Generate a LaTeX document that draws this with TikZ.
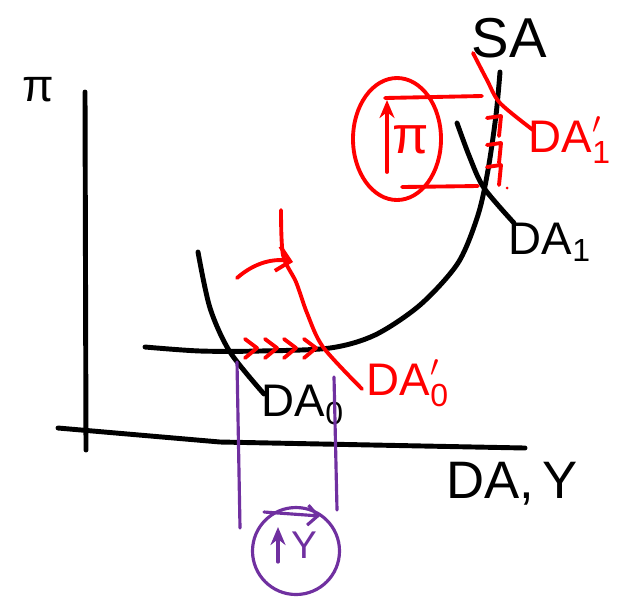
\documentclass[tikz,border=0pt]{standalone}
\usepackage{fontspec}
\setmainfont{Liberation Sans}
\usetikzlibrary{arrows.meta,shapes.geometric}
\definecolor{myViolet}{RGB}{112,48,160}
\tikzset{
myAxis/.style={black, line width=2.8pt, line cap=round, line join=round}
, myCurve/.style={black, line width=2.8pt, line cap=round}
, myShift/.style={red, line width=2.2pt, line cap=round, line join=round}
, myLink/.style={myViolet, line width=1.8pt, line cap=round}
, myLabel/.style={inner sep=0pt, font=\fontsize{26}{30}\selectfont}
, myBarb/.style={-{Straight Barb[length=2.6mm,width=5mm]}}
, myUp/.style={-{Stealth[length=3.6mm,width=3mm]}}
}

\begin{document}
\begin{tikzpicture}[x=0.2mm,y=-0.2mm]
	\useasboundingbox (0,0) rectangle (619,605);
	% axes
	\draw[myAxis] (85,92) -- (86,450);
	\draw[myAxis] (58,428) -- (220,442) -- (525,448);
	\node[myLabel] (PiAxis) at (38,90) {π};
	\node[myLabel, font=\fontsize{30}{34}\selectfont] (QAxis) at (512,484) {DA,\,Y};

	% supply
	\draw[myCurve] plot[smooth] coordinates {(145,347) (200,351) (260,351) (330,348) (375,335) (420,305) (458,263) (478,215) (488,170) (496,115) (500,72)};
	\node[myLabel, font=\fontsize{32}{36}\selectfont] (SA) at (509,38) {SA};

	% demand, low
	\draw[myCurve] plot[smooth] coordinates {(198,252) (210,308) (230,352) (264,394)};
	\node[myLabel] (DAzero) at (303,405) {DA\textsubscript{0}};
	\draw[myShift] plot[smooth] coordinates {(281,210) (283,255) (296,282) (307,313) (323,347) (362,389)};
	\node[myLabel, text=red] (DAzeroNew) at (408,383) {$\mathrm{DA}'_{\mathrm{0}}$};
	\draw[myShift, myBarb] (237,278) .. controls (255,262) and (275,258) .. (293,262);
	\foreach \x in {245,265,284,304}
		\draw[myShift] (\x,339) -- (\x+12,348) -- (\x,358);

	% demand, high
	\draw[myCurve] plot[smooth] coordinates {(457,123) (470,158) (484,188) (514,223)};
	\node[myLabel] (DAone) at (550,242) {DA\textsubscript{1}};
	\draw[myShift] plot[smooth] coordinates {(473,53) (487,80) (500,103) (533,130)};
	\node[myLabel, text=red] (DAoneNew) at (570,140) {$\mathrm{DA}'_{\mathrm{1}}$};
	\draw[myShift] (385,98) -- (482,96);
	\draw[myShift] (402,187) -- (478,186);
	\foreach \y in {116,143,165}
		\draw[myShift] (487,\y+2) -- (501,\y) -- (499,\y+20);
	\fill[red] (507,188) circle [radius=0.3mm];

	% rise of pi
	\node[ellipse, draw=red, line width=2.2pt, minimum width=17.6mm, minimum height=24.4mm] (PiRise) at (397,139) {};
	\draw[myShift, myUp] (387,172) -- (387,100);
	\node[myLabel, text=red, font=\fontsize{30}{34}\selectfont] (PiUp) at (411,140) {π};

	% rise of output
	\draw[myLink] (237,362) -- (240,528);
	\draw[myLink] (334,377) -- (337,510);
	\node[circle, draw=myViolet, line width=1.8pt, minimum size=17.4mm] (YRise) at (296,551) {};
	\draw[myLink, myUp] (278,562) -- (278,527);
	\node[myLabel, text=myViolet, font=\fontsize{22}{26}\selectfont] (YUp) at (304,545) {Y};
	\draw[myLink, -{Straight Barb[length=2mm,width=4mm]}] (264,512) -- (320,516);
\end{tikzpicture}
\end{document}
